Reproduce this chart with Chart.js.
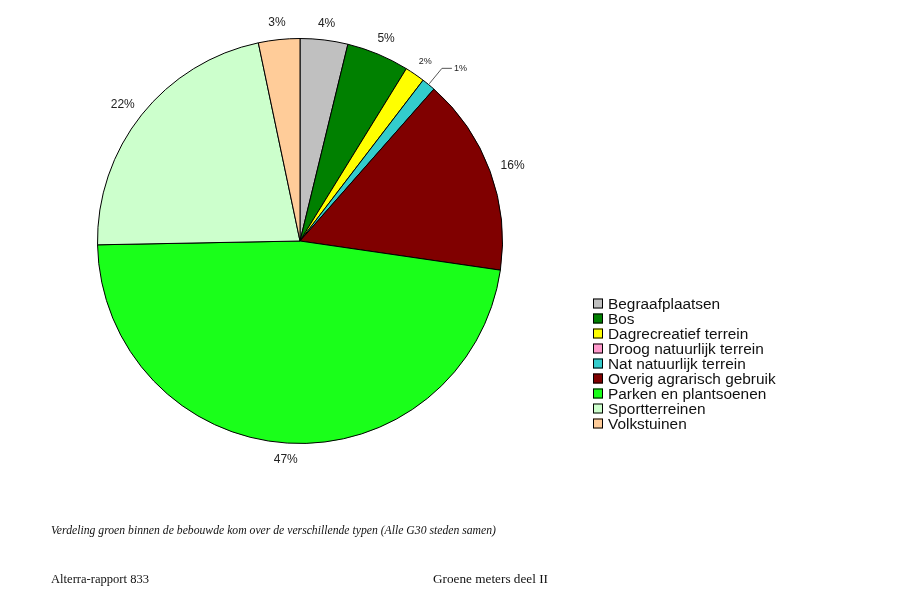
<!DOCTYPE html>
<html>
<head>
<meta charset="utf-8">
<script src="https://cdn.jsdelivr.net/npm/chart.js@4"></script>
<style>
  body { margin: 0; background: #fff; }
  #wrap { position: relative; width: 901px; height: 598px; }
</style>
</head>
<body>
<div id="wrap"><canvas id="grafiekGroen" width="901" height="598"></canvas></div>
<script>
// Verdeling groen binnen de bebouwde kom (alle G30 steden samen), in procenten
const categorieen = [
    'Begraafplaatsen', 'Bos', 'Dagrecreatief terrein', 'Droog natuurlijk terrein',
    'Nat natuurlijk terrein', 'Overig agrarisch gebruik', 'Parken en plantsoenen',
    'Sportterreinen', 'Volkstuinen'
];
const percentages = [3.8, 5.0, 1.6, 0, 1.1, 15.8, 47.4, 22.0, 3.3];
const kleuren = ['#c0c0c0', '#008000', '#ffff00', '#ff99cc', '#33cccc', '#800000', '#1aff1a', '#ccffcc', '#ffcc99'];

const bijschrift = 'Verdeling groen binnen de bebouwde kom over de verschillende typen (Alle G30 steden samen)';
const voetLinks = 'Alterra-rapport 833';
const voetRechts = 'Groene meters deel II';

// tekst horizontaal op een vaste breedte zetten (serif-letters van het origineel zijn breder)
function tekstOpBreedte(ctx, tekst, x, y, breedte) {
    const w = ctx.measureText(tekst).width;
    ctx.save();
    ctx.translate(x, y);
    ctx.scale(breedte / w, 1);
    ctx.fillText(tekst, 0, 0);
    ctx.restore();
}

// labels rond de taart + legenda + tekst onder de grafiek
const labelsPlugin = {
    id: 'labelsPlugin',
    afterDatasetsDraw(chart) {
        const ctx = chart.ctx;
        const meta = chart.getDatasetMeta(0);
        ctx.save();
        meta.data.forEach((arc, i) => {
            const v = percentages[i];
            if (!v) return;
            const { x, y, startAngle, endAngle, outerRadius } = arc.getProps(['x', 'y', 'startAngle', 'endAngle', 'outerRadius'], true);
            const mid = (startAngle + endAngle) / 2;
            const cos = Math.cos(mid), sin = Math.sin(mid);
            const tekst = Math.round(v) + '%';
            const klein = v < 2.5;
            ctx.font = (klein ? '9px' : '12px') + ' "Liberation Sans", Arial, sans-serif';
            ctx.fillStyle = '#222';
            if (v < 1.5) {
                // klein stukje: label met hulplijn
                const x1 = x + cos * (outerRadius + 1), y1 = y + sin * (outerRadius + 1);
                const x2 = x + cos * (outerRadius + 21), y2 = y + sin * (outerRadius + 21);
                ctx.strokeStyle = '#555';
                ctx.lineWidth = 1;
                ctx.beginPath();
                ctx.moveTo(x1, y1);
                ctx.lineTo(x2, y2);
                ctx.lineTo(x2 + 10, y2);
                ctx.stroke();
                ctx.textAlign = 'left';
                ctx.textBaseline = 'middle';
                ctx.fillText(tekst, x2 + 12, y2);
                return;
            }
            const w = ctx.measureText(tekst).width;
            const h = klein ? 7 : 9;
            const ax = x + cos * (outerRadius + 10), ay = y + sin * (outerRadius + 10);
            ctx.textAlign = 'center';
            ctx.textBaseline = 'middle';
            ctx.fillText(tekst, ax + cos * (w / 2 + 2), ay + sin * (h / 2 + 2));
        });

        // legenda
        const lx = 593, ly = 303.5, stap = 15;
        ctx.font = '15.4px "Liberation Sans", Arial, sans-serif';
        ctx.textAlign = 'left';
        ctx.textBaseline = 'middle';
        categorieen.forEach((naam, i) => {
            const yy = ly + i * stap;
            ctx.fillStyle = kleuren[i];
            ctx.fillRect(lx, yy - 5, 10, 10);
            ctx.strokeStyle = '#000';
            ctx.lineWidth = 1;
            ctx.strokeRect(lx + 0.5, yy - 5 + 0.5, 9, 9);
            ctx.fillStyle = '#111';
            ctx.fillText(naam, lx + 15, yy + 1);
        });

        // bijschrift en voettekst
        ctx.fillStyle = '#111';
        ctx.font = 'italic 11.5px "Liberation Serif", "DejaVu Serif", serif';
        tekstOpBreedte(ctx, bijschrift, 51, 531, 445);
        ctx.font = '13px "Liberation Serif", "DejaVu Serif", serif';
        tekstOpBreedte(ctx, voetLinks, 51, 580, 98);
        tekstOpBreedte(ctx, voetRechts, 433, 580, 115);
        ctx.restore();
    }
};

const ctxGroen = document.getElementById('grafiekGroen').getContext('2d');
new Chart(ctxGroen, {
    type: 'pie',
    data: {
        labels: categorieen,
        datasets: [{
            data: percentages,
            backgroundColor: kleuren,
            borderColor: '#000',
            borderWidth: 1
        }]
    },
    options: {
        responsive: false,
        animation: false,
        layout: { padding: { left: 97, top: 38, right: 398, bottom: 154 } },
        plugins: {
            legend: { display: false },
            tooltip: { enabled: false }
        }
    },
    plugins: [labelsPlugin]
});
</script>
</body>
</html>
